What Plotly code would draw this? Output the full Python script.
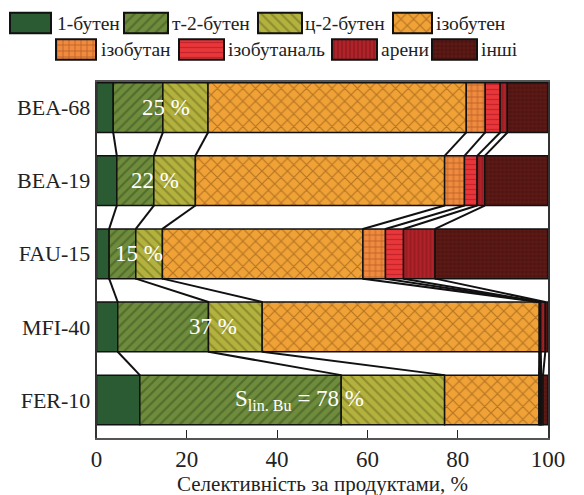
import plotly.graph_objects as go

catalysts = ["BEA-68", "BEA-19", "FAU-15", "MFI-40", "FER-10"]
products = ["1-бутен", "т-2-бутен", "ц-2-бутен", "ізобутен",
            "ізобутан", "ізобутаналь", "арени", "інші"]

but1 = [3.7, 4.5, 2.8, 4.7, 9.6]
trans2 = [11.0, 8.2, 5.9, 20.1, 44.6]
cis2 = [10.0, 9.2, 5.9, 11.9, 22.9]
isobutene = [57.2, 55.2, 44.4, 61.4, 20.9]
isobutane = [4.2, 4.4, 5.0, 0.0, 0.3]
isobutanal = [3.3, 2.8, 4.0, 0.3, 0.2]
arenes = [1.6, 1.7, 7.0, 1.0, 0.4]
others = [9.0, 14.0, 25.0, 0.6, 1.1]

sel_labels = ["25 %", "22 %", "15 %", "37 %", "S<sub>lin. Bu</sub> = 78 %"]
sel_label_x = [15.4, 13.0, 9.4, 25.7, 45.0]

x_ticks = [0, 20, 40, 60, 80, 100]
x_title = "Селективність за продуктами, %"

series = [but1, trans2, cis2, isobutene, isobutane, isobutanal, arenes, others]

# styles
bg_colors = ["#2b5b33", "#6f8b3c", "#b4b23e", "#f0a236", "#ef8a3e", "#e8363a", "#b0232a", "#5e1a16"]
fg_colors = ["#2b5b33", "#34501c", "#66661a", "#7a4610", "#843410", "#a0121a", "#640c10", "#2a0604"]
shapes = ["", "/", "\\", "x", "+", "-", "|", "+"]
psizes = [8, 7, 7, 9, 6, 5, 4, 4]
psolid = [0.3, 0.3, 0.3, 0.25, 0.25, 0.25, 0.3, 0.3]

BAR_W = 0.68
SERIF = "Liberation Serif, DejaVu Serif, serif"
TXT = "#222222"

fig = go.Figure()

ypos = list(range(len(catalysts)))
cum = [[0.0] * len(catalysts)]
for s in series:
    cum.append([c + v for c, v in zip(cum[-1], s)])

for k, (name, vals) in enumerate(zip(products, series)):
    fig.add_trace(go.Bar(
        y=ypos, x=vals, base=cum[k], orientation="h", width=BAR_W,
        name=name, showlegend=False,
        marker=dict(color=bg_colors[k],
                    line=dict(color="#111111", width=1.5),
                    pattern=dict(shape=shapes[k], fgcolor=fg_colors[k],
                                 bgcolor=bg_colors[k], size=psizes[k],
                                 solidity=psolid[k])),
        xaxis="x", yaxis="y"))

# connecting lines between boundaries of neighbouring bars
lx, ly = [], []
for i in range(len(catalysts) - 1):
    for k in range(1, len(series)):
        lx += [cum[k][i], cum[k][i + 1], None]
        ly += [i + BAR_W / 2, i + 1 - BAR_W / 2, None]
fig.add_trace(go.Scatter(x=lx, y=ly, mode="lines",
                         line=dict(color="#111111", width=2),
                         showlegend=False, hoverinfo="skip",
                         xaxis="x", yaxis="y"))

for i, (t, xv) in enumerate(zip(sel_labels, sel_label_x)):
    fig.add_annotation(x=xv, y=i, text=t, showarrow=False, xref="x", yref="y",
                       font=dict(family=SERIF, size=23, color="white"))

# custom legend (pixel coordinates on an overlay axis)
W, H = 584, 495
leg_rows = [0, 0, 0, 0, 1, 1, 1, 1]
leg_row_y = [23, 49.5]
leg_sw_x0 = [10, 124, 258, 393, 56, 179, 332, 432]
leg_sw_x1 = [51, 168, 302, 432, 96, 224, 377, 477]
leg_text_x = [55, 170, 303, 434, 99, 226, 379, 479]
leg_sw_h = 20.5

for k in range(len(products)):
    fig.add_trace(go.Bar(
        y=[leg_row_y[leg_rows[k]]], x=[leg_sw_x1[k] - leg_sw_x0[k]],
        base=[leg_sw_x0[k]], orientation="h", width=leg_sw_h,
        showlegend=False, hoverinfo="skip",
        marker=dict(color=bg_colors[k],
                    line=dict(color="#111111", width=2),
                    pattern=dict(shape=shapes[k], fgcolor=fg_colors[k],
                                 bgcolor=bg_colors[k], size=psizes[k],
                                 solidity=psolid[k])),
        xaxis="x2", yaxis="y2"))
    fig.add_annotation(x=leg_text_x[k], y=leg_row_y[leg_rows[k]], text=products[k],
                       xref="x2", yref="y2", xanchor="left", yanchor="middle",
                       showarrow=False,
                       font=dict(family=SERIF, size=19.5, color=TXT))

fig.add_annotation(x=(96.5 + 548) / 2 / W, y=(H - 484) / H, xref="paper", yref="paper",
                   text=x_title, showarrow=False, xanchor="center", yanchor="middle",
                   font=dict(family=SERIF, size=21, color=TXT))

fig.update_layout(
    width=W, height=H,
    margin=dict(l=0, r=0, t=0, b=0),
    paper_bgcolor="white", plot_bgcolor="rgba(0,0,0,0)",
    barmode="overlay",
    xaxis=dict(domain=[96.5 / W, 548 / W], range=[0, 100], automargin=False,
               tickvals=x_ticks, ticktext=[str(v) for v in x_ticks],
               ticks="inside", ticklen=8, tickcolor=TXT,
               showgrid=False, zeroline=False,
               showline=True, linecolor="#555555", linewidth=1.5, mirror=True,
               tickfont=dict(family=SERIF, size=23, color=TXT),
               anchor="y"),
    yaxis=dict(domain=[(H - 438) / H, (H - 82) / H], range=[4.52, -0.35],
               automargin=False,
               tickvals=ypos, ticktext=catalysts, ticks="",
               showgrid=False, zeroline=False,
               showline=True, linecolor="#333333", linewidth=1.5, mirror=True,
               tickfont=dict(family=SERIF, size=22, color=TXT),
               anchor="x"),
    xaxis2=dict(domain=[0, 1], range=[0, W], visible=False, anchor="y2",
                automargin=False),
    yaxis2=dict(domain=[0, 1], range=[H, 0], visible=False, anchor="x2",
                automargin=False),
)

fig.write_html("out.html", config={"displayModeBar": False},
               post_script="document.body.style.margin='0px';")
